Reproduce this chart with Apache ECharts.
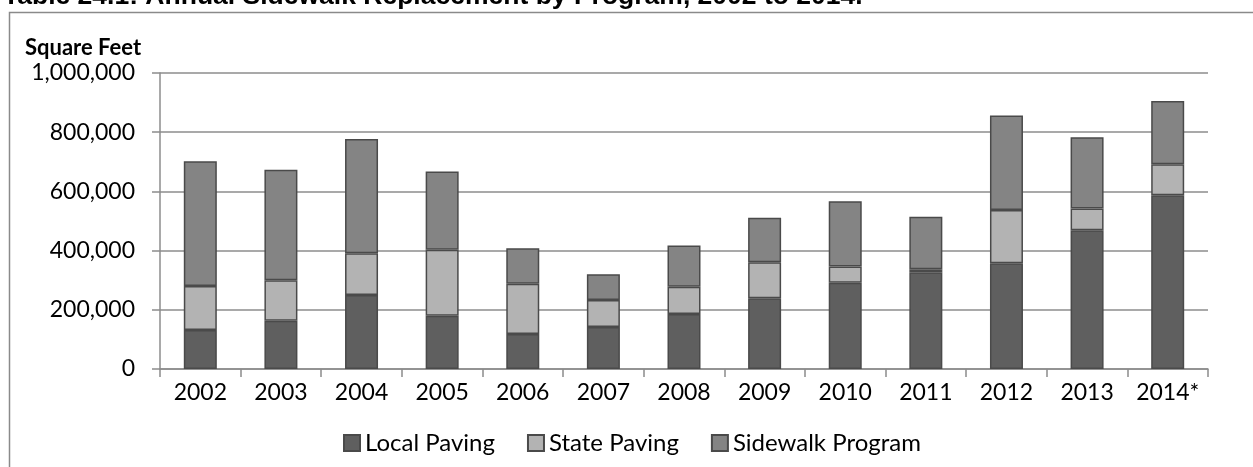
<!DOCTYPE html>
<html>
<head>
<meta charset="utf-8">
<script src="https://cdn.jsdelivr.net/npm/echarts@6/dist/echarts.min.js"></script>
<style>
  html, body { margin: 0; padding: 0; background: #ffffff; }
  #main { width: 1253px; height: 467px; }
</style>
</head>
<body>
<div id="main"></div>
<script>
// 数据
var years = ['2002', '2003', '2004', '2005', '2006', '2007', '2008', '2009', '2010', '2011', '2012', '2013', '2014*'];
var localPaving = [132000, 163000, 250000, 180000, 118000, 142000, 186000, 239000, 291000, 327000, 357000, 469000, 587000];
var statePaving = [148000, 137000, 141000, 223000, 170000, 91000, 92000, 122000, 55000, 10000, 180000, 73000, 105000];
var sidewalkProgram = [422000, 373000, 386000, 264000, 120000, 87000, 139000, 150000, 221000, 177000, 319000, 241000, 213000];
var seriesNames = ['Local Paving', 'State Paving', 'Sidewalk Program'];

var myChart = echarts.init(document.getElementById('main'));

var font = 'Lato, "Open Sans", sans-serif';

function makeBar(name, values, color) {
    return {
        name: name,
        type: 'bar',
        stack: 'total',
        barWidth: 33,
        data: values,
        itemStyle: {
            color: color,
            borderColor: '#4a4a4a',
            borderWidth: 1.5
        },
        emphasis: { disabled: true }
    };
}

var option = {
    backgroundColor: '#ffffff',
    animation: false,
    textStyle: { fontFamily: font },
    graphic: [{
        type: 'rect',
        left: 7,
        top: 10,
        shape: { width: 1400, height: 600 },
        style: { fill: 'none', stroke: '#8a8a8a', lineWidth: 1.5 },
        silent: true
    }, {
        type: 'text',
        left: 3,
        top: -17,
        style: {
            text: 'Table 24.1: Annual Sidewalk Replacement by Program, 2002 to 2014.',
            font: 'bold 26.5px "Liberation Sans", Arial, sans-serif',
            fill: '#000000'
        }
    }, {
        type: 'text',
        left: 25,
        top: 37,
        style: {
            text: 'Square Feet',
            font: 'bold 22px ' + font,
            fill: '#000000'
        }
    }],
    legend: {
        data: seriesNames,
        left: 338,
        top: 426,
        itemWidth: 16,
        itemHeight: 16,
        itemGap: 32,
        icon: 'rect',
        selectedMode: false,
        textStyle: { fontSize: 24, color: '#000000', fontFamily: font }
    },
    grid: {
        left: 160,
        right: 45,
        top: 73,
        bottom: 98,
        containLabel: false
    },
    xAxis: {
        type: 'category',
        data: years,
        axisLine: { lineStyle: { color: '#8c8c8c', width: 1.5 } },
        axisTick: { show: true, length: 8, lineStyle: { color: '#8c8c8c', width: 1.5 } },
        axisLabel: { color: '#000000', fontSize: 23, margin: 12, fontFamily: font, interval: 0, hideOverlap: false }
    },
    yAxis: {
        type: 'value',
        min: 0,
        max: 1000000,
        interval: 200000,
        axisLine: { show: true, lineStyle: { color: '#8c8c8c', width: 1.5 } },
        axisTick: { show: true, length: 8, lineStyle: { color: '#8c8c8c', width: 1.5 } },
        splitLine: { lineStyle: { color: '#8c8c8c', width: 1.5 } },
        axisLabel: {
            color: '#000000',
            fontSize: 23,
            margin: 25,
            fontFamily: font,
            formatter: function (v) {
                return v.toString().replace(/\B(?=(\d{3})+(?!\d))/g, ',');
            }
        }
    },
    series: [
        makeBar(seriesNames[0], localPaving, '#5f5f5f'),
        makeBar(seriesNames[1], statePaving, '#b3b3b3'),
        makeBar(seriesNames[2], sidewalkProgram, '#848484')
    ]
};

myChart.setOption(option);
</script>
</body>
</html>
